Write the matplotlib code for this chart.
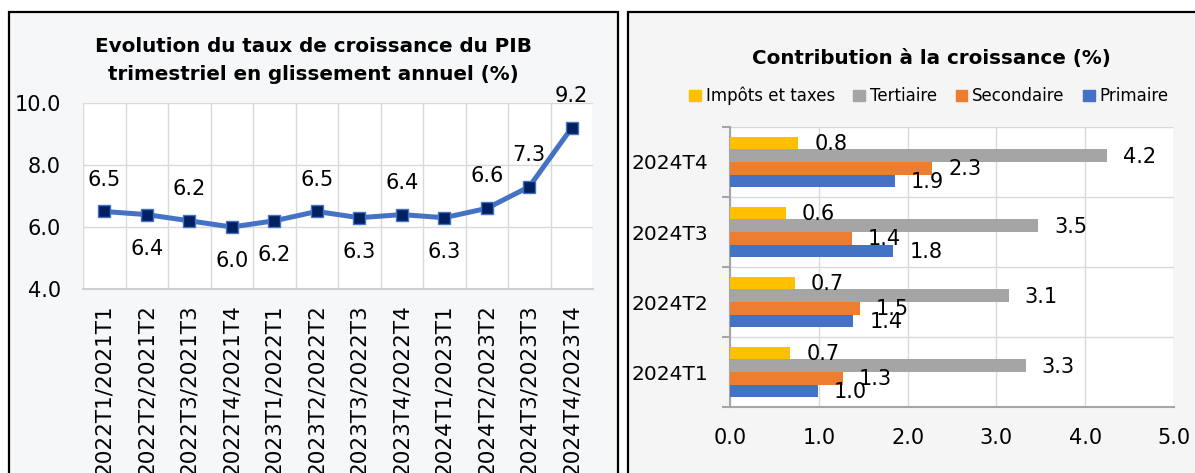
import numpy as np
import matplotlib.pyplot as plt
from matplotlib.patches import Rectangle, Patch

plt.rcParams["font.family"] = "DejaVu Sans"

# Left chart: GDP growth, year-on-year
periods = [
    "2022T1/2021T1", "2022T2/2021T2", "2022T3/2021T3", "2022T4/2021T4",
    "2023T1/2022T1", "2023T2/2022T2", "2023T3/2022T3", "2023T4/2022T4",
    "2024T1/2023T1", "2024T2/2023T2", "2024T3/2023T3", "2024T4/2023T4",
]
growth = [6.5, 6.4, 6.2, 6.0, 6.2, 6.5, 6.3, 6.4, 6.3, 6.6, 7.3, 9.2]
label_above = [True, False, True, False, False, True, False, True, False, True, True, True]

# Right chart: contributions to growth
quarters = ["2024T1", "2024T2", "2024T3", "2024T4"]
impots = [0.68, 0.73, 0.63, 0.77]
tertiaire = [3.33, 3.14, 3.47, 4.24]
secondaire = [1.27, 1.46, 1.37, 2.28]
primaire = [0.99, 1.39, 1.84, 1.86]

W, H = 1195, 473
fig = plt.figure(figsize=(W / 100, H / 100), dpi=100)
fig.patch.set_facecolor("white")

# panel backgrounds
fig.add_artist(Rectangle((9 / W, -0.1), 609 / W, 1.1 - 12 / H, transform=fig.transFigure,
                         facecolor="#F5F7F9", edgecolor="black", lw=1.6, zorder=0))
fig.add_artist(Rectangle((628 / W, -0.1), 0.5, 1.1 - 12 / H, transform=fig.transFigure,
                         facecolor="#F5F5F5", edgecolor="black", lw=1.6, zorder=0))

grid_col = "#D9D9D9"

# ---- left chart
ax1 = fig.add_axes([83 / W, 1 - 289 / H, 510 / W, 186 / H])
x = np.arange(len(growth))
ax1.plot(x, growth, color="#4472C4", lw=3.6, marker="s", ms=8.5,
         mfc="#002060", mec="#4472C4", mew=1, zorder=3)
ax1.set_xlim(-0.5, len(growth) - 0.5)
ax1.set_ylim(4, 10)
ax1.set_yticks([4, 6, 8, 10])
ax1.set_yticklabels([f"{v:.1f}" for v in [4, 6, 8, 10]])
ax1.set_xticks(x)
ax1.set_xticklabels(periods, rotation=90, va="top")
ax1.set_xticks(np.arange(-0.5, len(growth), 1), minor=True)
ax1.grid(which="minor", axis="x", color=grid_col, lw=1)
ax1.grid(which="major", axis="y", color=grid_col, lw=1)
ax1.tick_params(axis="both", which="both", length=0)
ax1.tick_params(axis="x", pad=11, labelsize=15.5)
ax1.tick_params(axis="y", pad=16, labelsize=15)
for s in ["top", "right", "left"]:
    ax1.spines[s].set_visible(False)
ax1.spines["bottom"].set_color("#D0D0D0")
ax1.spines["bottom"].set_linewidth(1.5)
for i, v in enumerate(growth):
    dy = 32 if label_above[i] else -34
    ax1.annotate(f"{v:.1f}", (i, v), xytext=(0, dy), textcoords="offset pixels",
                 ha="center", va="center", fontsize=15, annotation_clip=False)

fig.text(313 / W, 1 - 47 / H, "Evolution du taux de croissance du PIB",
         ha="center", va="center", fontsize=14.3, fontweight="bold")
fig.text(313 / W, 1 - 74 / H, "trimestriel en glissement annuel (%)",
         ha="center", va="center", fontsize=14.3, fontweight="bold")

# ---- right chart
ax2 = fig.add_axes([730 / W, 1 - 407 / H, 444 / W, 280 / H])
y = np.arange(len(quarters))
bh = 0.182
series = [
    ("Impôts et taxes", impots, "#FFC000", 1.5 * bh),
    ("Tertiaire", tertiaire, "#A5A5A5", 0.5 * bh),
    ("Secondaire", secondaire, "#ED7D31", -0.5 * bh),
    ("Primaire", primaire, "#4472C4", -1.5 * bh),
]
for name, vals, col, off in series:
    ax2.barh(y + off, vals, height=bh, color=col, zorder=3)
    for yi, v in zip(y, vals):
        ax2.annotate(f"{v:.1f}", (v, yi + off), xytext=(16, -1), textcoords="offset pixels",
                     ha="left", va="center", fontsize=15, zorder=4)
ax2.set_xlim(0, 5)
ax2.set_ylim(-0.5, len(quarters) - 0.5)
ax2.set_xticks(np.arange(0, 6))
ax2.set_xticklabels([f"{v:.1f}" for v in np.arange(0, 6)])
ax2.set_yticks(y)
ax2.set_yticklabels(quarters)
ax2.set_yticks(np.arange(-0.5, len(quarters), 1), minor=True)
ax2.grid(which="major", axis="x", color=grid_col, lw=1)
ax2.grid(which="minor", axis="y", color=grid_col, lw=1)
ax2.tick_params(axis="both", which="major", length=0)
ax2.tick_params(axis="y", which="minor", length=6, color="#A6A6A6", width=1.5)
ax2.tick_params(axis="x", which="minor", length=0)
ax2.tick_params(axis="y", pad=16, labelsize=14.5)
ax2.tick_params(axis="x", pad=15, labelsize=15)
for s in ["top", "right"]:
    ax2.spines[s].set_visible(False)
for s in ["left", "bottom"]:
    ax2.spines[s].set_color("#A6A6A6")
    ax2.spines[s].set_linewidth(1.5)

fig.text(931 / W, 1 - 58 / H, "Contribution à la croissance (%)",
         ha="center", va="center", fontsize=14.3, fontweight="bold")
handles = [Patch(color=c) for _, _, c, _ in series]
fig.legend(handles, [n for n, _, _, _ in series], loc="center",
           bbox_to_anchor=(929 / W, 1 - 96 / H), ncol=4, frameon=False,
           fontsize=12, handlelength=0.7, handleheight=0.7,
           handletextpad=0.3, columnspacing=1.1)

fig.savefig("out.png", dpi=100)
